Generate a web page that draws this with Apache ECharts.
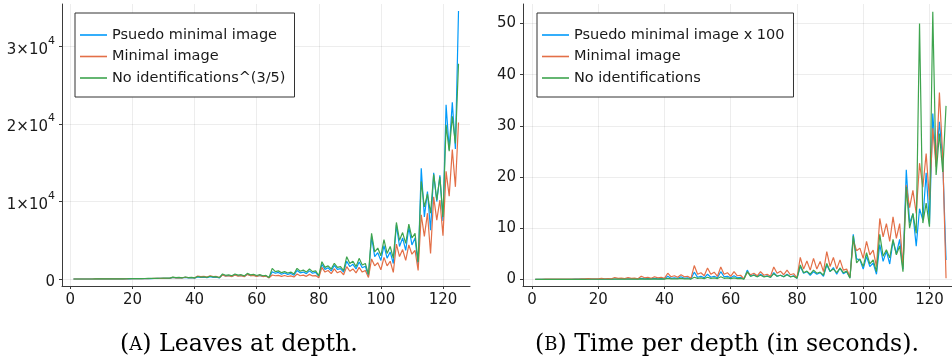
<!DOCTYPE html>
<html><head><meta charset="utf-8">
<script src="https://cdn.jsdelivr.net/npm/echarts@6/dist/echarts.min.js"></script>
<style>html,body{margin:0;padding:0;background:#fff}#c{width:952px;height:360px}</style>
</head><body><div id="c"></div>
<script>
// ---------- data ----------
const depths = [1,2,3,4,5,6,7,8,9,10,11,12,13,14,15,16,17,18,19,20,21,22,23,24,25,26,27,28,29,30,31,32,
33,34,35,36,37,38,39,40,41,42,43,44,45,46,47,48,49,50,51,52,53,54,55,56,57,58,59,60,61,62,63,64,
65,66,67,68,69,70,71,72,73,74,75,76,77,78,79,80,81,82,83,84,85,86,87,88,89,90,91,92,93,94,95,96,
97,98,99,100,101,102,103,104,105,106,107,108,109,110,111,112,113,114,115,116,117,118,119,120,121,122,123,124,125];

// (A) Leaves at depth
const leavesPseudo = [1,1,2,2,3,4,5,6,8,9,11,13,15,17,20,22,
25,28,32,36,40,44,48,53,58,63,68,74,80,86,93,90,
200,150,170,130,210,150,180,120,280,200,240,180,300,220,250,150,
560,400,450,340,560,420,470,330,620,450,500,370,470,350,390,160,
950,750,850,620,780,600,720,500,1100,800,900,700,1050,750,850,330,
1900,1250,1450,1050,1750,1250,1350,900,2300,1600,1900,1300,2200,1450,1650,350,
5500,2900,3400,2400,4300,2700,3500,2000,7000,4200,5300,3700,6700,4400,5300,1700,
14300,8000,11300,6300,13700,10000,13400,7500,22500,16700,22800,16800,34600];
const leavesMinimal = [1,1,2,3,4,5,6,7,9,10,12,14,16,19,21,24,
27,31,35,39,43,48,53,58,63,69,75,81,88,95,102,98,
210,160,190,140,230,170,200,140,390,300,340,260,400,300,330,190,
520,360,420,320,520,380,440,300,600,430,480,350,450,320,380,150,
520,420,480,350,450,330,400,260,650,420,500,350,600,400,450,160,
1500,900,1100,700,1300,800,1000,550,1600,1000,1300,800,1500,900,1100,200,
2600,1700,2100,1200,2800,1700,2300,850,4500,2900,3800,2400,4400,3200,3700,1100,
8300,5500,8500,3300,10600,7600,10200,5600,13900,10700,16700,11900,20200];
const leavesNoIdent = [1,1,2,3,4,5,6,8,10,12,14,16,19,22,25,28,
32,36,40,45,50,55,60,66,72,78,85,92,100,108,116,110,
240,180,210,160,260,190,220,150,330,250,290,220,360,270,300,180,
650,480,540,420,650,500,560,400,730,540,600,450,560,420,470,200,
1380,950,1050,820,950,780,900,650,1380,1000,1150,900,1300,950,1050,420,
2240,1500,1700,1300,2030,1500,1600,1100,2890,2000,2300,1600,2670,1800,2000,600,
5900,3500,4000,3000,5100,3300,4200,2700,7300,5000,6000,4600,7100,5300,5900,2200,
12600,9300,11000,8500,13500,10200,13200,8000,19900,16500,21000,17500,27800];

// (B) Time per depth (seconds)
const timePseudo = [0.01,0.01,0.01,0.01,0.01,0.01,0.01,0.02,0.02,0.02,0.02,0.02,0.03,0.03,0.03,0.03,
0.04,0.04,0.04,0.05,0.05,0.05,0.06,0.06,0.07,0.07,0.08,0.08,0.09,0.09,0.1,0.08,
0.2,0.1,0.15,0.1,0.2,0.1,0.15,0.1,0.6,0.2,0.3,0.2,0.5,0.2,0.3,0.1,
1.4,0.4,0.6,0.3,1.0,0.4,0.6,0.3,1.5,0.5,0.6,0.3,0.7,0.3,0.4,0.05,
1.8,0.6,0.9,0.5,1.0,0.5,0.7,0.4,1.3,0.6,0.8,0.5,1.0,0.5,0.7,0.2,
2.5,1.2,1.5,0.8,1.5,1.0,1.3,0.6,2.8,1.5,2.3,1.0,2.2,1.1,1.5,0.3,
8.8,4.0,3.8,2.0,4.5,2.5,3.2,1.0,6.8,3.5,5.5,3.0,7.5,5.0,7.8,2.0,
21.4,11.0,12.8,6.5,13.8,11.6,20.8,10.8,32.4,22.7,30.8,23.3,3.8];
const timeMinimal = [0.02,0.02,0.02,0.03,0.03,0.03,0.04,0.04,0.05,0.05,0.06,0.06,0.07,0.07,0.08,0.08,
0.15,0.1,0.12,0.1,0.2,0.12,0.15,0.1,0.35,0.2,0.25,0.15,0.35,0.2,0.25,0.1,
0.6,0.3,0.4,0.2,0.5,0.3,0.4,0.2,1.2,0.5,0.7,0.4,0.9,0.5,0.6,0.2,
2.7,1.0,1.3,0.7,2.2,1.0,1.4,0.6,2.4,1.0,1.3,0.6,1.5,0.7,0.8,0.1,
1.4,0.9,1.2,0.7,1.5,0.8,1.0,0.6,2.4,1.2,1.6,0.9,1.8,0.9,1.1,0.3,
4.3,2.0,3.6,1.8,4.1,2.0,3.5,1.5,5.4,2.5,4.3,2.0,3.8,1.8,2.0,0.5,
7.6,5.6,6.1,4.1,7.4,4.8,5.7,2.5,11.9,8.3,10.9,7.4,12.2,8.0,10.9,2.5,
18.4,14.0,17.4,12.9,22.7,18.0,24.6,15.5,29.5,22.0,36.5,24.0,0.2];
const timeNoIdent = [0.01,0.01,0.01,0.01,0.01,0.01,0.01,0.01,0.01,0.01,0.01,0.01,0.01,0.01,0.01,0.01,
0.02,0.02,0.02,0.02,0.02,0.02,0.02,0.02,0.03,0.03,0.03,0.03,0.03,0.03,0.03,0.03,
0.1,0.05,0.08,0.05,0.1,0.05,0.08,0.05,0.2,0.1,0.12,0.08,0.2,0.1,0.12,0.05,
0.4,0.2,0.3,0.15,0.4,0.2,0.3,0.15,0.5,0.2,0.3,0.15,0.3,0.15,0.2,0.05,
1.5,0.6,0.8,0.5,0.8,0.5,0.6,0.4,1.1,0.6,0.8,0.5,0.9,0.5,0.6,0.2,
2.8,1.3,1.6,1.0,1.8,1.2,1.4,0.8,3.1,1.6,2.0,1.3,2.2,1.3,1.6,0.2,
8.5,3.2,4.0,2.5,5.2,3.0,3.8,1.5,8.8,4.5,5.8,4.2,7.8,4.8,6.5,1.5,
18.1,10.0,12.9,9.0,50.0,11.0,14.9,10.3,52.3,20.4,28.5,21.0,33.9];

const xTickValues = [0,20,40,60,80,100,120];
const leavesTickValues = [0,10000,20000,30000];
const timeTickValues = [0,10,20,30,40,50];

const leftNames = ['Psuedo minimal image','Minimal image','No identifications^(3/5)'];
const rightNames = ['Psuedo minimal image x 100','Minimal image','No identifications'];
const captionA = ['A', ' Leaves at depth.'];
const captionB = ['B', ' Time per depth (in seconds).'];

// ---------- styles ----------
const COLORS = ['#009AFA','#E36F47','#3EA44E'];
const FONT = 'DejaVu Sans';
const TXT = '#1a1a1a';
const AX = '#3a3a3a';

function pairs(arr){ return depths.map((d,i)=>[d, arr[i]]); }

function xAxis(gi, min, max){
  return {type:'value', gridIndex:gi, min:min, max:max,
    axisLine:{show:true, onZero:false, lineStyle:{color:AX, width:1}},
    axisTick:{show:true, length:3, customValues:xTickValues, lineStyle:{color:AX}},
    axisLabel:{customValues:xTickValues, margin:7, fontFamily:FONT, fontSize:15, color:TXT},
    splitLine:{show:true, lineStyle:{color:'rgba(0,0,0,0.07)', width:1}}};
}
function yAxis(gi, min, max, ticks, fmt, rich){
  return {type:'value', gridIndex:gi, min:min, max:max,
    axisLine:{show:true, onZero:false, lineStyle:{color:AX, width:1}},
    axisTick:{show:true, length:3, customValues:ticks, lineStyle:{color:AX}},
    axisLabel:{customValues:ticks, margin:7, fontFamily:FONT, fontSize:15, color:TXT, formatter:fmt, rich:rich},
    splitLine:{show:true, lineStyle:{color:'rgba(0,0,0,0.07)', width:1}}};
}
function line(name, arr, ci, gi){
  return {type:'line', name:name, xAxisIndex:gi, yAxisIndex:gi, data:pairs(arr),
    symbol:'none', showSymbol:false, animation:false,
    lineStyle:{color:COLORS[ci], width:1.2}, itemStyle:{color:COLORS[ci]}};
}
function legend(left, names){
  return {left:left, top:13, orient:'vertical', data:names, selectedMode:false,
    icon:'rect', itemWidth:27, itemHeight:1.6, itemGap:6.5,
    backgroundColor:'#fff', borderColor:'#333', borderWidth:1, borderRadius:0,
    padding:[14.5,9,11.5,5],
    textStyle:{fontFamily:FONT, fontSize:14.5, lineHeight:14, color:TXT}};
}

const supRich = {
  m:{fontFamily:FONT, fontSize:15, color:TXT, lineHeight:22, verticalAlign:'bottom'},
  s:{fontFamily:FONT, fontSize:11, color:TXT, lineHeight:11, verticalAlign:'top'}
};
const leavesFmt = v => v === 0 ? '{m|0}' : '{m|' + (v/10000) + '×10}{s|4}';

const capRich = {
  n:{fontFamily:'DejaVu Serif', fontSize:23.7, color:'#000'},
  sc:{fontFamily:'DejaVu Serif', fontSize:18, color:'#000'}
};

const option = {
  animation:false,
  backgroundColor:'#fff',
  grid:[
    {left:62, top:4, width:408, height:282, containLabel:false},
    {left:523, top:4, width:429, height:282, containLabel:false}
  ],
  xAxis:[ xAxis(0, -2.7, 128.7), xAxis(1, -2.7, 126.8) ],
  yAxis:[
    yAxis(0, -900, 35500, leavesTickValues, leavesFmt, supRich),
    yAxis(1, -1.3, 53.8, timeTickValues, null, null)
  ],
  legend:[ legend(75, leftNames), legend(537, rightNames) ],
  series:[
    line(leftNames[0], leavesPseudo, 0, 0),
    line(leftNames[1], leavesMinimal, 1, 0),
    line(leftNames[2], leavesNoIdent, 2, 0),
    line(rightNames[0], timePseudo, 0, 1),
    line(rightNames[1], timeMinimal, 1, 1),
    line(rightNames[2], timeNoIdent, 2, 1)
  ],
  graphic:[
    {type:'text', x:239, y:345, style:{text:'{n|(}{sc|' + captionA[0] + '}{n|)' + captionA[1] + '}', rich:capRich, align:'center', verticalAlign:'middle', textAlign:'center', textVerticalAlign:'middle'}},
    {type:'text', x:727, y:345, style:{text:'{n|(}{sc|' + captionB[0] + '}{n|)' + captionB[1] + '}', rich:capRich, align:'center', verticalAlign:'middle', textAlign:'center', textVerticalAlign:'middle'}}
  ]
};
const chart = echarts.init(document.getElementById('c'), null, {renderer:'canvas'});
chart.setOption(option);
</script></body></html>
